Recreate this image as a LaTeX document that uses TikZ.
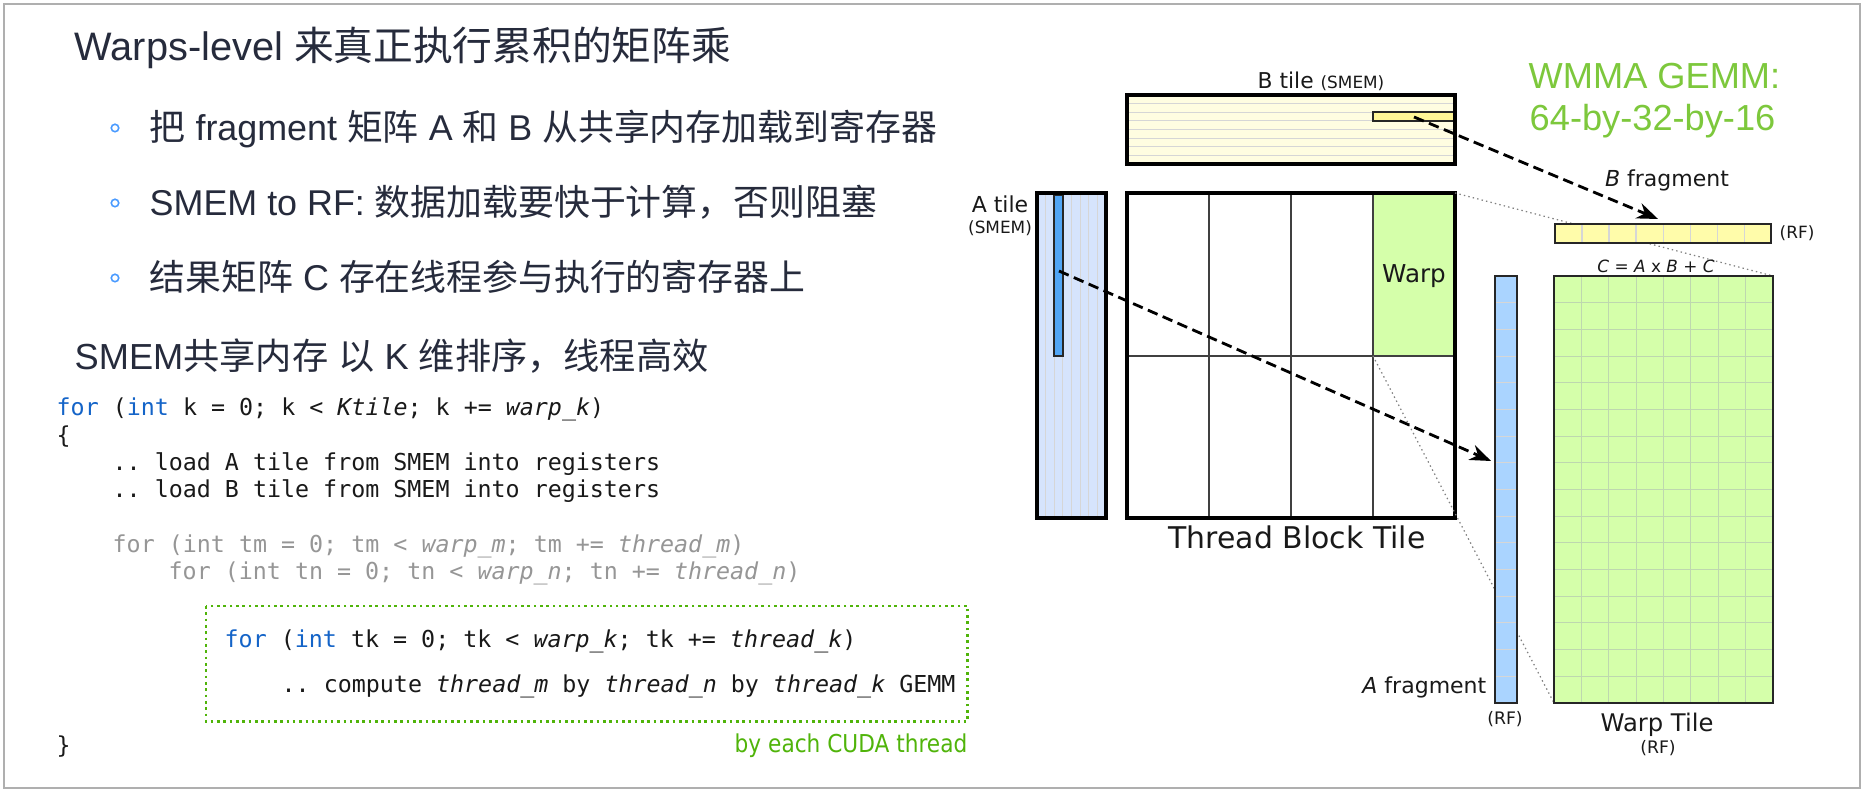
\documentclass[tikz,border=0pt]{standalone}
\usepackage{fontspec}
\setmainfont{Liberation Sans}
\setmonofont{DejaVu Sans Mono}
\newfontfamily\cjk{Noto Sans CJK SC}
\newfontfamily\figfont{DejaVu Sans}
\newfontfamily\notefont[FakeStretch=0.88]{DejaVu Sans}
\usetikzlibrary{calc,arrows.meta}

\definecolor{inkdark}{RGB}{38,43,60}
\definecolor{framegray}{RGB}{175,175,175}
\definecolor{bulletblue}{RGB}{74,155,255}
\definecolor{kwblue}{RGB}{20,100,200}
\definecolor{codegray}{RGB}{150,150,150}
\definecolor{threadgreen}{RGB}{80,180,10}
\definecolor{wmmagreen}{RGB}{125,200,60}
\definecolor{btilefill}{RGB}{255,253,225}
\definecolor{bstripfill}{RGB}{255,246,150}
\definecolor{atilefill}{RGB}{214,228,252}
\definecolor{astripfill}{RGB}{80,165,245}
\definecolor{warpfill}{RGB}{213,255,170}
\definecolor{afragfill}{RGB}{170,212,255}
\definecolor{bfragfill}{RGB}{255,252,170}
\definecolor{warpgrid}{RGB}{190,215,175}

\newcommand{\zh}[1]{{\cjk #1}}
\newcommand{\kw}[1]{\textcolor{kwblue}{#1}}
\newcommand{\fs}[1]{\fontsize{#1}{#1}\selectfont}

\tikzstyle{headtext}=[anchor=base west,inner sep=0pt,text=inkdark,font=\fs{11.3pt}]
\tikzstyle{bodytext}=[anchor=base west,inner sep=0pt,text=inkdark,font=\fs{10.2pt}]
\tikzstyle{bullet}=[circle,draw=bulletblue,line width=0.45pt,inner sep=0pt,minimum size=0.075cm]
\tikzstyle{code}=[anchor=base west,inner sep=0pt,text=black!90,font=\ttfamily\fs{6.63pt}]
\tikzstyle{figlabel}=[anchor=base,inner sep=0pt,text=black!90]
\tikzstyle{tileedge}=[draw=black,line width=1pt]
\tikzstyle{fragedge}=[draw=black!85,line width=0.7pt]
\tikzstyle{cellline}=[black!75,line width=0.37pt]
\tikzstyle{faintline}=[black!16,line width=0.3pt]
\tikzstyle{zoomline}=[black!50,line width=0.35pt,dash pattern=on 0.4pt off 0.9pt]
\tikzstyle{fetch}=[->,black,line width=0.8pt,dash pattern=on 3pt off 1.6pt]
\tikzstyle{threadbox}=[threadgreen,line width=0.75pt,dash pattern=on 0.75pt off 1.05pt]

\begin{document}
\begin{tikzpicture}[x=0.01cm,y=-0.01cm,>={Stealth[length=6pt,width=4.6pt]}]

      \useasboundingbox (0,0) rectangle (1864,792);
      \fill[white] (0,0) rectangle (1864,792);
      \draw[framegray,line width=0.6pt] (4,4) rectangle (1860,788);

      % left column
      \node[headtext] (head1) at (74,60.5) {Warps-level \zh{来真正执行累积的矩阵乘}};

      \node[bullet] (dot1) at (115,128) {};
      \node[bodytext] (item1) at (149,141) {\zh{把} fragment \zh{矩阵} A \zh{和} B \zh{从共享内存加载到寄存器}};
      \node[bullet] (dot2) at (115,203) {};
      \node[bodytext] (item2) at (149,216) {SMEM to RF: \zh{数据加载要快于计算，否则阻塞}};
      \node[bullet] (dot3) at (115,278) {};
      \node[bodytext] (item3) at (149,291) {\zh{结果矩阵} C \zh{存在线程参与执行的寄存器上}};

      \node[headtext,font=\fs{10.3pt}] (head2) at (74,370) {SMEM\zh{共享内存} \zh{以} K \zh{维排序，线程高效}};

      % code
      \node[code] (c1) at (56,416) {\kw{for} (\kw{int} k = 0; k < \textit{Ktile}; k += \textit{warp\_k})};
      \node[code] (c2) at (56,444) {\{};
      \node[code] (c3) at (112,471) {.. load A tile from SMEM into registers};
      \node[code] (c4) at (112,498) {.. load B tile from SMEM into registers};
      \node[code,text=codegray] (c5) at (112,553) {for (int tm = 0; tm < \textit{warp\_m}; tm += \textit{thread\_m})};
      \node[code,text=codegray] (c6) at (168,580) {for (int tn = 0; tn < \textit{warp\_n}; tn += \textit{thread\_n})};
      \node[code] (c7) at (224,648) {\kw{for} (\kw{int} tk = 0; tk < \textit{warp\_k}; tk += \textit{thread\_k})};
      \node[code] (c8) at (281,693) {.. compute \textit{thread\_m} by \textit{thread\_n} by \textit{thread\_k} GEMM};
      \node[code] (c9) at (56,754) {\}};

      \draw[threadbox] (206,606) rectangle (967.5,721.7);
      \node[anchor=base east,inner sep=0pt,text=threadgreen,font=\notefont\fs{7pt}] (note) at (968,753) {by each CUDA thread};

      \node[anchor=base west,inner sep=0pt,text=wmmagreen,font=\fs{10.3pt}] (wmma1) at (1528,89) {WMMA GEMM:};
      \node[anchor=base west,inner sep=0pt,text=wmmagreen,font=\fs{10.3pt}] (wmma2) at (1529,131) {64-by-32-by-16};

      % B tile
      \fill[btilefill] (1127,95) rectangle (1455,164);
      \foreach \i in {1,...,7} {
            \draw[faintline] (1127,95+8.625*\i) -- (1455,95+8.625*\i);
      }
      \fill[fragedge,fill=bstripfill,line width=0.45pt] (1373,112.25) rectangle (1455,120.9);
      \draw[tileedge] (1127,95) rectangle (1455,164);
      \coordinate (bsrc) at (1414,117);

      % A tile
      \fill[atilefill] (1037,193) rectangle (1106,518);
      \foreach \i in {1,...,7} {
            \draw[faintline] (1037+8.625*\i,193) -- (1037+8.625*\i,518);
      }
      \fill[fragedge,fill=astripfill,line width=0.45pt] (1054.25,195) rectangle (1062.9,356);
      \draw[tileedge] (1037,193) rectangle (1106,518);
      \coordinate (asrc) at (1059,271);

      % thread block tile
      \fill[warpfill] (1373,193) rectangle (1455,356);
      \foreach \x in {1209,1291,1373} {
            \draw[cellline] (\x,193) -- (\x,518);
      }
      \draw[cellline] (1127,356) -- (1455,356);
      \draw[tileedge] (1127,193) rectangle (1455,518);

      \coordinate (wne) at (1455,193);
      \coordinate (wsw) at (1373,356);
      \coordinate (tne) at (1773,276);
      \coordinate (tsw) at (1554,703);
      \draw[zoomline] (wne) -- (tne);
      \draw[zoomline] (wsw) -- (tsw);

      % fragments
      \fill[bfragfill] (1555,224) rectangle (1771,243);
      \foreach \i in {1,...,7} {
            \draw[faintline] (1555+27*\i,224) -- (1555+27*\i,243);
      }
      \draw[fragedge] (1555,224) rectangle (1771,243);
      \coordinate (bdst) at (1658,219);

      \fill[afragfill] (1495,276) rectangle (1517,703);
      \foreach \i in {1,...,15} {
            \draw[faintline] (1495,276+26.6875*\i) -- (1517,276+26.6875*\i);
      }
      \draw[fragedge] (1495,276) rectangle (1517,703);
      \coordinate (adst) at (1491,461);

      % warp tile
      \fill[warpfill] (1554,276) rectangle (1773,703);
      \foreach \i in {1,...,7} {
            \draw[warpgrid,line width=0.3pt] (1554+27.375*\i,276) -- (1554+27.375*\i,703);
      }
      \foreach \i in {1,...,15} {
            \draw[warpgrid,line width=0.3pt] (1554,276+26.6875*\i) -- (1773,276+26.6875*\i);
      }
      \draw[fragedge] (1554,276) rectangle (1773,703);

      % loads
      \draw[fetch] (bsrc) -- (bdst);
      \draw[fetch] (asrc) -- (adst);

      % labels
      \node[figlabel,font=\figfont\fs{6.2pt}] (btlbl) at (1321,89) {B tile {\fs{4.8pt}(SMEM)}};
      \node[figlabel,font=\figfont\fs{6.26pt}] (atlbl) at (1000,213) {A tile};
      \node[figlabel,font=\figfont\fs{4.8pt}] (atmem) at (1000,234) {(SMEM)};
      \node[figlabel,font=\figfont\fs{7pt}] (warplbl) at (1414,283) {Warp};
      \node[figlabel,font=\figfont\fs{8.5pt}] (tblbl) at (1297,549) {Thread Block Tile};
      \node[figlabel,font=\figfont\fs{6.26pt}] (bflbl) at (1667,187) {\textit{B} fragment};
      \node[figlabel,anchor=base west,font=\figfont\fs{4.8pt}] (bfrf) at (1779,238.5) {(RF)};
      \node[figlabel,font=\figfont\fs{4.8pt}] (eqlbl) at (1656,273) {\textit{C} = \textit{A} x \textit{B} + \textit{C}};
      \node[figlabel,anchor=base east,font=\figfont\fs{6.26pt}] (aflbl) at (1487,694) {\textit{A} fragment};
      \node[figlabel,font=\figfont\fs{4.9pt}] (afrf) at (1505,725) {(RF)};
      \node[figlabel,font=\figfont\fs{6.9pt}] (wtlbl) at (1657,731.5) {Warp Tile};
      \node[figlabel,font=\figfont\fs{4.9pt}] (wtrf) at (1658,754) {(RF)};

\end{tikzpicture}
\end{document}
